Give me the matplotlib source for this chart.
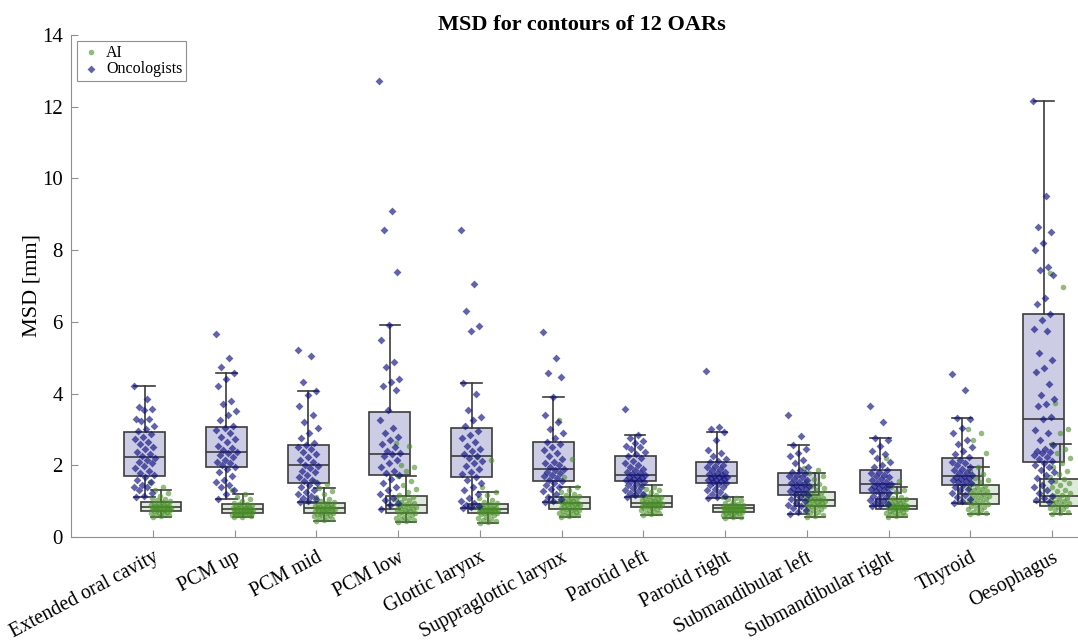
import numpy as np
import matplotlib
matplotlib.use("Agg")
import matplotlib.pyplot as plt

plt.rcParams["font.family"] = ["Liberation Serif", "DejaVu Serif"]

organs = [
    "Extended oral cavity", "PCM up", "PCM mid", "PCM low", "Glottic larynx",
    "Suppraglottic larynx", "Parotid left", "Parotid right", "Submandibular left",
    "Submandibular right", "Thyroid", "Oesophagus",
]

# box statistics (mm)
onc_q1 = [1.70, 1.95, 1.51, 1.73, 1.67, 1.56, 1.56, 1.51, 1.17, 1.23, 1.45, 2.09]
onc_med = [2.23, 2.37, 2.00, 2.31, 2.26, 1.90, 1.73, 1.70, 1.45, 1.48, 1.70, 3.29]
onc_q3 = [2.93, 3.07, 2.57, 3.49, 3.04, 2.65, 2.26, 2.09, 1.78, 1.87, 2.20, 6.22]
onc_lo = [1.12, 1.06, 0.98, 0.78, 0.81, 0.98, 1.12, 1.09, 0.64, 0.86, 0.95, 0.98]
onc_hi = [4.21, 4.57, 4.07, 5.91, 4.30, 3.90, 2.85, 2.93, 2.57, 2.76, 3.32, 12.16]

ai_q1 = [0.73, 0.67, 0.67, 0.67, 0.67, 0.78, 0.84, 0.70, 0.86, 0.78, 0.92, 0.86]
ai_med = [0.84, 0.78, 0.81, 0.89, 0.78, 0.95, 0.95, 0.81, 1.03, 0.86, 1.20, 1.14]
ai_q3 = [0.98, 0.92, 0.95, 1.14, 0.92, 1.12, 1.14, 0.89, 1.26, 1.06, 1.45, 1.62]
ai_lo = [0.56, 0.56, 0.45, 0.42, 0.39, 0.56, 0.61, 0.53, 0.56, 0.56, 0.64, 0.64]
ai_hi = [1.31, 1.20, 1.37, 1.70, 1.26, 1.40, 1.45, 1.12, 1.78, 1.40, 1.95, 2.59]

# individual contours (mm)
onc_eoc = [4.21, 3.86, 3.62, 3.58, 3.55, 3.30, 3.28, 3.22, 3.10, 3.02, 2.95, 2.88, 2.80, 2.72,
           2.65, 2.58, 2.50, 2.45, 2.38, 2.30, 2.25, 2.20, 2.16, 2.10, 2.05, 1.98, 1.92, 1.85,
           1.78, 1.72, 1.66, 1.60, 1.52, 1.45, 1.40, 1.38, 1.30, 1.22, 1.15, 1.12]
onc_pcm_up = [5.65, 4.99, 4.75, 4.57, 4.40, 4.20, 3.80, 3.70, 3.50, 3.40, 3.25, 3.10, 3.05, 2.98,
              2.90, 2.80, 2.72, 2.65, 2.55, 2.48, 2.42, 2.37, 2.33, 2.28, 2.22, 2.15, 2.10, 2.05,
              2.00, 1.96, 1.90, 1.80, 1.70, 1.60, 1.52, 1.45, 1.38, 1.30, 1.20, 1.06]
onc_pcm_mid = [5.20, 5.05, 4.32, 4.07, 3.95, 3.65, 3.40, 3.20, 3.05, 2.90, 2.75, 2.62, 2.57, 2.52,
               2.45, 2.38, 2.30, 2.22, 2.15, 2.08, 2.02, 1.98, 1.92, 1.85, 1.80, 1.72, 1.66, 1.60,
               1.55, 1.50, 1.45, 1.38, 1.30, 1.25, 1.20, 1.15, 1.10, 1.05, 1.00, 0.98]
onc_pcm_low = [12.72, 9.09, 8.56, 7.39, 5.91, 5.49, 4.88, 4.74, 4.41, 4.32, 4.20, 4.10, 3.54, 3.26,
               3.05, 2.90, 2.80, 2.70, 2.60, 2.50, 2.40, 2.35, 2.30, 2.25, 2.15, 2.05, 1.95, 1.85,
               1.78, 1.72, 1.62, 1.50, 1.40, 1.30, 1.20, 1.10, 1.02, 0.95, 0.88, 0.78]
onc_glottic = [8.56, 7.06, 6.30, 5.88, 5.75, 4.30, 4.00, 3.54, 3.35, 3.26, 3.10, 2.95, 2.85, 2.75,
               2.65, 2.55, 2.45, 2.40, 2.32, 2.26, 2.20, 2.12, 2.05, 1.98, 1.90, 1.82, 1.75, 1.68,
               1.60, 1.50, 1.40, 1.30, 1.20, 1.10, 1.00, 0.95, 0.90, 0.87, 0.84, 0.81]
onc_supra = [5.72, 4.99, 4.57, 4.46, 3.90, 3.40, 3.20, 3.00, 2.90, 2.75, 2.65, 2.58, 2.50, 2.42,
             2.35, 2.25, 2.18, 2.10, 2.05, 2.00, 1.95, 1.90, 1.86, 1.82, 1.78, 1.74, 1.70, 1.65,
             1.60, 1.56, 1.50, 1.45, 1.40, 1.35, 1.28, 1.20, 1.12, 1.05, 1.00, 0.98]
onc_par_l = [3.57, 2.85, 2.75, 2.68, 2.62, 2.55, 2.50, 2.45, 2.38, 2.32, 2.26, 2.20, 2.12, 2.05,
             2.00, 1.95, 1.90, 1.86, 1.82, 1.78, 1.75, 1.73, 1.70, 1.68, 1.65, 1.62, 1.60, 1.58,
             1.56, 1.52, 1.48, 1.44, 1.40, 1.36, 1.32, 1.28, 1.24, 1.20, 1.16, 1.12]
onc_par_r = [4.63, 3.07, 3.00, 2.93, 2.70, 2.43, 2.35, 2.26, 2.18, 2.12, 2.08, 2.02, 1.98, 1.94,
             1.90, 1.86, 1.82, 1.78, 1.75, 1.72, 1.70, 1.68, 1.66, 1.64, 1.62, 1.60, 1.58, 1.56,
             1.54, 1.51, 1.48, 1.44, 1.40, 1.35, 1.30, 1.25, 1.20, 1.15, 1.12, 1.09]
onc_sub_l = [3.40, 2.82, 2.57, 2.45, 2.35, 2.25, 2.15, 2.05, 1.95, 1.88, 1.82, 1.78, 1.74, 1.70,
             1.66, 1.62, 1.58, 1.54, 1.50, 1.47, 1.45, 1.42, 1.39, 1.36, 1.33, 1.30, 1.27, 1.24,
             1.20, 1.17, 1.12, 1.06, 1.00, 0.95, 0.90, 0.85, 0.80, 0.75, 0.70, 0.64]
onc_sub_r = [3.65, 3.21, 2.76, 2.70, 2.55, 2.40, 2.30, 2.20, 2.10, 2.00, 1.94, 1.87, 1.82, 1.78,
             1.74, 1.70, 1.66, 1.62, 1.58, 1.54, 1.50, 1.48, 1.45, 1.42, 1.39, 1.36, 1.33, 1.30,
             1.27, 1.23, 1.19, 1.15, 1.11, 1.07, 1.03, 1.00, 0.96, 0.92, 0.89, 0.86]
onc_thyroid = [4.55, 4.10, 3.32, 3.29, 3.04, 2.90, 2.70, 2.60, 2.50, 2.40, 2.30, 2.22, 2.15, 2.10,
               2.05, 2.00, 1.95, 1.90, 1.86, 1.82, 1.78, 1.74, 1.70, 1.68, 1.65, 1.62, 1.59, 1.56,
               1.53, 1.50, 1.45, 1.40, 1.35, 1.30, 1.24, 1.18, 1.12, 1.06, 1.00, 0.95]
onc_oeso = [12.16, 9.51, 8.65, 8.51, 8.20, 8.00, 7.53, 7.45, 7.30, 6.66, 6.50, 6.22, 6.05, 5.80,
            5.75, 5.13, 4.94, 4.71, 4.60, 4.27, 3.96, 3.85, 3.71, 3.65, 3.35, 3.29, 2.98, 2.90,
            2.70, 2.57, 2.45, 2.40, 2.37, 2.33, 2.28, 2.23, 2.18, 2.12, 2.05, 2.00, 1.94, 1.88,
            1.80, 1.72, 1.64, 1.55, 1.46, 1.38, 1.30, 1.22, 1.15, 1.08, 1.02, 0.98]

ai_eoc = [1.53, 1.40, 1.31, 1.22, 1.15, 1.10, 1.05, 1.02, 0.99, 0.97, 0.95, 0.93, 0.91, 0.90,
          0.88, 0.87, 0.86, 0.85, 0.84, 0.84, 0.83, 0.82, 0.81, 0.80, 0.79, 0.78, 0.77, 0.76,
          0.75, 0.74, 0.73, 0.72, 0.70, 0.68, 0.66, 0.64, 0.62, 0.60, 0.58, 0.56]
ai_pcm_up = [1.30, 1.20, 1.12, 1.05, 1.00, 0.96, 0.93, 0.91, 0.89, 0.87, 0.85, 0.84, 0.83, 0.82,
             0.81, 0.80, 0.79, 0.78, 0.78, 0.77, 0.76, 0.75, 0.74, 0.73, 0.72, 0.71, 0.70, 0.69,
             0.68, 0.67, 0.66, 0.65, 0.64, 0.63, 0.62, 0.61, 0.60, 0.59, 0.57, 0.56]
ai_pcm_mid = [1.55, 1.48, 1.37, 1.28, 1.20, 1.12, 1.06, 1.00, 0.97, 0.94, 0.92, 0.90, 0.88, 0.86,
              0.85, 0.84, 0.83, 0.82, 0.81, 0.80, 0.79, 0.78, 0.77, 0.76, 0.75, 0.74, 0.72, 0.70,
              0.68, 0.67, 0.66, 0.64, 0.62, 0.60, 0.58, 0.55, 0.52, 0.50, 0.47, 0.45]
ai_pcm_low = [2.62, 2.55, 2.00, 1.95, 1.85, 1.70, 1.55, 1.45, 1.35, 1.25, 1.18, 1.12, 1.08, 1.05,
              1.02, 0.98, 0.95, 0.92, 0.90, 0.88, 0.86, 0.84, 0.82, 0.80, 0.78, 0.76, 0.74, 0.72,
              0.70, 0.68, 0.66, 0.63, 0.60, 0.57, 0.54, 0.52, 0.50, 0.47, 0.44, 0.42]
ai_glottic = [2.23, 2.15, 1.40, 1.26, 1.18, 1.10, 1.04, 0.98, 0.94, 0.92, 0.90, 0.88, 0.86, 0.84,
              0.82, 0.81, 0.80, 0.79, 0.78, 0.77, 0.76, 0.75, 0.74, 0.73, 0.72, 0.71, 0.70, 0.69,
              0.68, 0.67, 0.65, 0.63, 0.60, 0.57, 0.54, 0.50, 0.47, 0.44, 0.41, 0.39]
ai_supra = [3.26, 2.17, 1.67, 1.40, 1.32, 1.25, 1.20, 1.16, 1.13, 1.10, 1.08, 1.05, 1.03, 1.01,
            0.99, 0.97, 0.96, 0.95, 0.94, 0.93, 0.92, 0.90, 0.88, 0.86, 0.84, 0.82, 0.80, 0.79,
            0.78, 0.76, 0.74, 0.72, 0.70, 0.68, 0.66, 0.64, 0.62, 0.60, 0.58, 0.56]
ai_par_l = [1.45, 1.40, 1.35, 1.30, 1.25, 1.20, 1.17, 1.14, 1.12, 1.10, 1.08, 1.06, 1.04, 1.02,
            1.00, 0.98, 0.97, 0.96, 0.95, 0.94, 0.93, 0.92, 0.91, 0.90, 0.89, 0.88, 0.87, 0.86,
            0.85, 0.84, 0.82, 0.80, 0.78, 0.76, 0.74, 0.71, 0.68, 0.66, 0.63, 0.61]
ai_par_r = [1.12, 1.10, 1.06, 1.02, 0.98, 0.95, 0.92, 0.90, 0.89, 0.88, 0.87, 0.86, 0.85, 0.84,
            0.83, 0.82, 0.82, 0.81, 0.81, 0.80, 0.79, 0.78, 0.77, 0.76, 0.75, 0.74, 0.73, 0.72,
            0.71, 0.70, 0.69, 0.68, 0.66, 0.64, 0.62, 0.60, 0.58, 0.56, 0.55, 0.53]
ai_sub_l = [1.92, 1.88, 1.78, 1.70, 1.62, 1.55, 1.48, 1.42, 1.36, 1.30, 1.26, 1.22, 1.18, 1.15,
            1.12, 1.10, 1.08, 1.06, 1.04, 1.03, 1.02, 1.00, 0.98, 0.96, 0.94, 0.92, 0.90, 0.88,
            0.87, 0.86, 0.84, 0.81, 0.78, 0.75, 0.72, 0.69, 0.66, 0.62, 0.59, 0.56]
ai_sub_r = [2.20, 1.55, 1.40, 1.32, 1.25, 1.18, 1.12, 1.08, 1.06, 1.04, 1.02, 1.00, 0.98, 0.96,
            0.94, 0.92, 0.90, 0.89, 0.88, 0.87, 0.86, 0.85, 0.84, 0.83, 0.82, 0.81, 0.80, 0.79,
            0.78, 0.77, 0.75, 0.73, 0.71, 0.69, 0.67, 0.65, 0.63, 0.61, 0.58, 0.56]
ai_thyroid = [3.01, 2.90, 2.70, 2.34, 1.95, 1.85, 1.75, 1.65, 1.58, 1.52, 1.47, 1.43, 1.40, 1.37,
              1.34, 1.31, 1.28, 1.25, 1.22, 1.20, 1.18, 1.15, 1.12, 1.10, 1.07, 1.04, 1.01, 0.98,
              0.95, 0.92, 0.89, 0.86, 0.83, 0.80, 0.77, 0.74, 0.71, 0.68, 0.66, 0.64]
ai_oeso = [7.36, 6.97, 3.74, 3.01, 2.90, 2.59, 2.45, 2.34, 2.20, 2.06, 1.95, 1.85, 1.75, 1.68,
           1.62, 1.56, 1.50, 1.44, 1.38, 1.32, 1.27, 1.22, 1.18, 1.14, 1.10, 1.07, 1.04, 1.01,
           0.98, 0.95, 0.92, 0.89, 0.86, 0.83, 0.80, 0.77, 0.74, 0.71, 0.68, 0.64]

onc_points = [onc_eoc, onc_pcm_up, onc_pcm_mid, onc_pcm_low, onc_glottic, onc_supra,
              onc_par_l, onc_par_r, onc_sub_l, onc_sub_r, onc_thyroid, onc_oeso]
ai_points = [ai_eoc, ai_pcm_up, ai_pcm_mid, ai_pcm_low, ai_glottic, ai_supra,
             ai_par_l, ai_par_r, ai_sub_l, ai_sub_r, ai_thyroid, ai_oeso]

ONC_COLOR = "#101080"
AI_COLOR = "#4a8f28"
EDGE = "#3c3c3c"


def box_stats(q1, med, q3, lo, hi):
    return [dict(q1=a, med=b, q3=c, whislo=d, whishi=e, fliers=[])
            for a, b, c, d, e in zip(q1, med, q3, lo, hi)]


def spread(n, width=0.26):
    # deterministic horizontal spread of the points inside a group
    return ((np.arange(n) * 0.6180339887) % 1.0 - 0.5) * width


fig = plt.figure(figsize=(10.78, 6.42), dpi=100)
ax = fig.add_axes([0.0659, 0.1636, 0.948, 0.782])

pos = np.arange(1, len(organs) + 1)
line_kw = dict(color=EDGE, linewidth=1.2)

ax.bxp(box_stats(onc_q1, onc_med, onc_q3, onc_lo, onc_hi), positions=pos - 0.1,
       widths=0.5, capwidths=0.25, patch_artist=True, showfliers=False,
       boxprops=dict(facecolor=(0.0, 0.0, 0.5, 0.2), edgecolor=EDGE, linewidth=1.2),
       medianprops=line_kw, whiskerprops=line_kw, capprops=line_kw, zorder=2)
ax.bxp(box_stats(ai_q1, ai_med, ai_q3, ai_lo, ai_hi), positions=pos + 0.1,
       widths=0.5, capwidths=0.25, patch_artist=True, showfliers=False,
       boxprops=dict(facecolor=(0.3, 0.55, 0.2, 0.18), edgecolor=EDGE, linewidth=1.2),
       medianprops=line_kw, whiskerprops=line_kw, capprops=line_kw, zorder=2)

for i in range(len(organs)):
    yv = np.array(ai_points[i])
    ax.scatter(pos[i] + 0.1 + spread(len(yv)), yv, s=16, marker="o", color=AI_COLOR,
               alpha=0.6, linewidths=0, zorder=3, label="AI" if i == 0 else None)
for i in range(len(organs)):
    yv = np.array(onc_points[i])
    ax.scatter(pos[i] - 0.1 + spread(len(yv)), yv, s=16, marker="D", color=ONC_COLOR,
               alpha=0.65, linewidths=0, zorder=3, label="Oncologists" if i == 0 else None)

ax.set_xlim(0, 12.5)
ax.set_ylim(0, 14)
ax.set_yticks(range(0, 15, 2))
ax.set_xticks(pos)
ax.set_xticklabels(organs, rotation=28, ha="right", rotation_mode="anchor")
ax.tick_params(direction="in", length=5, color="#909090", labelsize=15, pad=6)
ax.tick_params(axis="x", labelsize=14.3, pad=8)
for side in ["top", "right"]:
    ax.spines[side].set_visible(False)
for side in ["left", "bottom"]:
    ax.spines[side].set_color("#909090")

ax.set_ylabel("MSD [mm]", fontsize=16, labelpad=0)
ax.set_title("MSD for contours of 12 OARs", fontsize=16, fontweight="bold", pad=3)

leg = ax.legend(loc="upper left", fontsize=11.5, fancybox=False, framealpha=1,
                edgecolor="#909090", borderaxespad=0.4, handletextpad=0.3,
                borderpad=0.2, labelspacing=0.05, handlelength=1.3, markerscale=1.0)
leg.get_frame().set_linewidth(0.8)

fig.savefig("out.png", dpi=100)
